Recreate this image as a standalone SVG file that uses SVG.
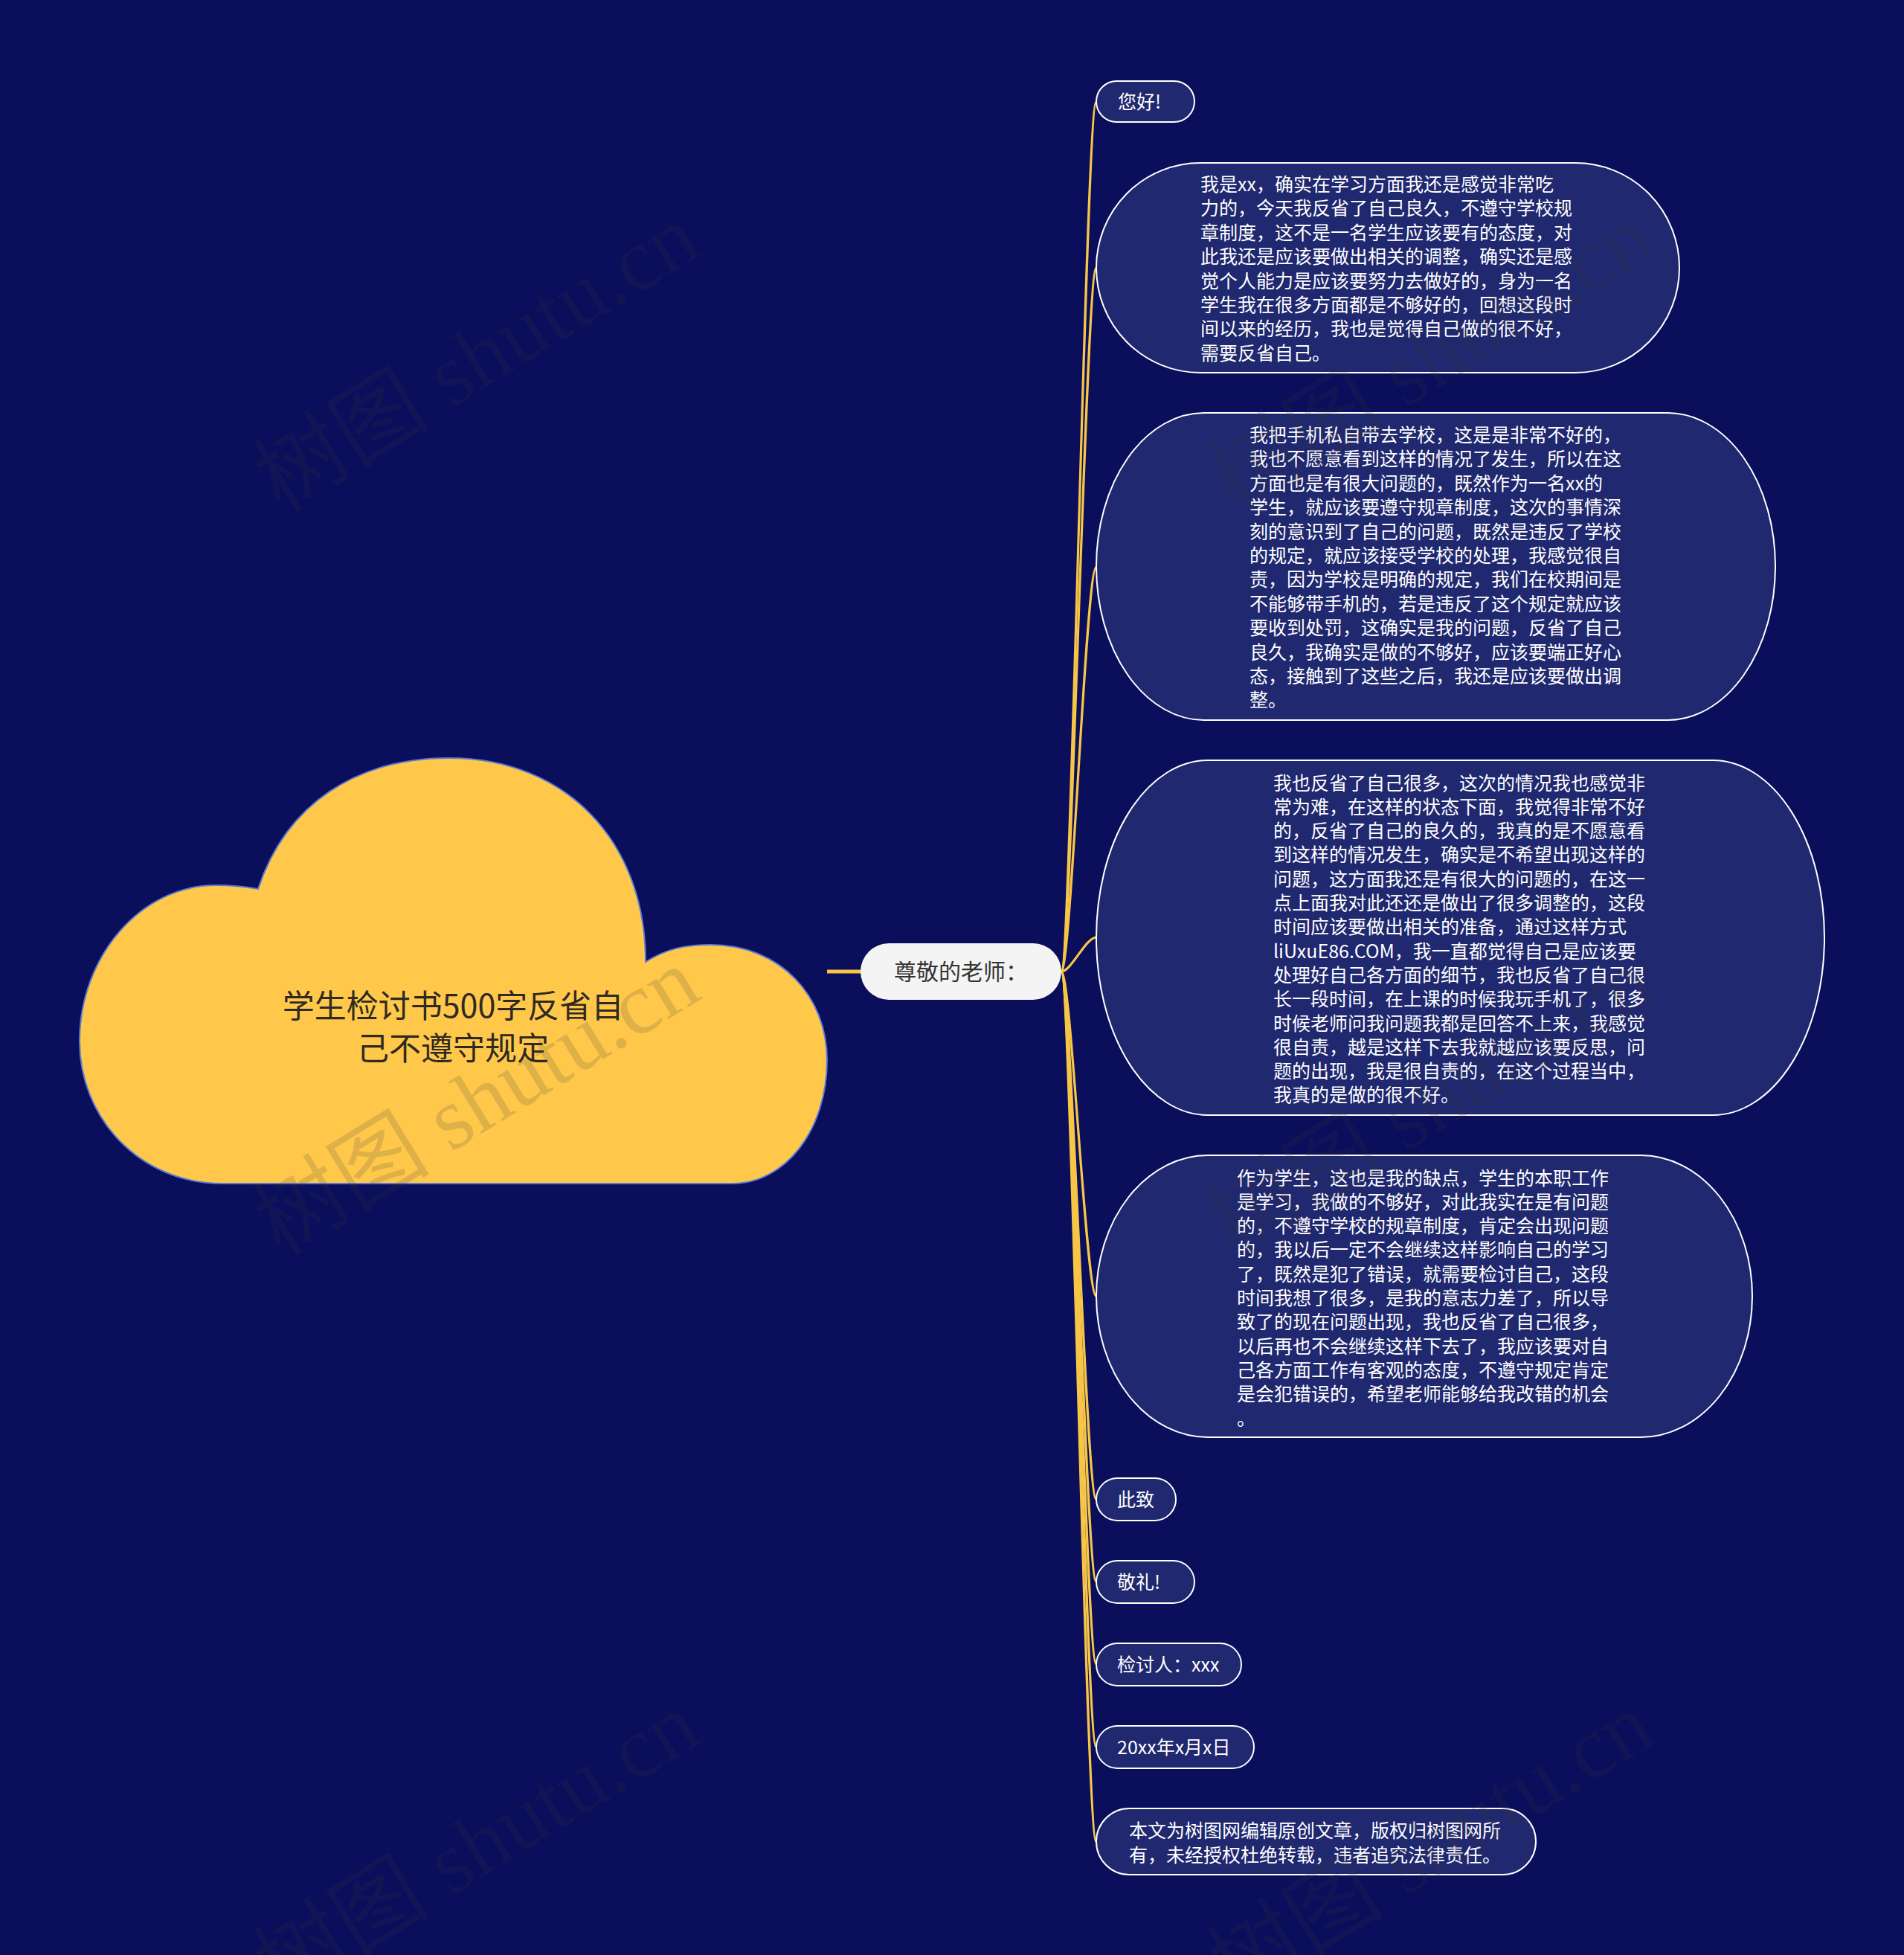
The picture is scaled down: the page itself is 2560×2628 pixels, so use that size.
<svg xmlns="http://www.w3.org/2000/svg" width="2560" height="2628" viewBox="0 0 2560 2628">
<style>
.bg{fill:#0a0e5b}
.node{fill:#20286f;stroke:#ffffff;stroke-width:2}
.t{font-family:"Noto Sans CJK SC","Noto Sans",sans-serif;font-size:25px;fill:#ffffff}
.conn{fill:none;stroke:#f7c646;stroke-width:3.2;stroke-linecap:round}
.wm{font-family:"Liberation Serif","Noto Sans CJK SC",serif;font-size:119px;fill:#3a3a3a;opacity:0.16}
</style>
<rect class="bg" x="0" y="0" width="2560" height="2628"/>

<g id="connectors">
<line x1="1112" y1="1306" x2="1160" y2="1306" stroke="#f7c646" stroke-width="5"/>
<path class="conn" d="M1427 1306 C1440 1306,1460 136.5,1474 136.5"/>
<path class="conn" d="M1427 1306 C1440 1306,1460 360,1474 360"/>
<path class="conn" d="M1427 1306 C1440 1306,1460 762,1474 762"/>
<path class="conn" d="M1427 1306 C1440 1306,1460 1260,1474 1260"/>
<path class="conn" d="M1427 1306 C1440 1306,1460 1742.5,1474 1742.5"/>
<path class="conn" d="M1427 1306 C1440 1306,1460 2015.5,1474 2015.5"/>
<path class="conn" d="M1427 1306 C1440 1306,1460 2126,1474 2126"/>
<path class="conn" d="M1427 1306 C1440 1306,1460 2237,1474 2237"/>
<path class="conn" d="M1427 1306 C1440 1306,1460 2348.5,1474 2348.5"/>
<path class="conn" d="M1427 1306 C1440 1306,1460 2476,1474 2476"/>
</g>

<g id="root">
<path d="M347 1195 C385 1080,480 1019,604 1019 C760 1019,868 1130,868 1293 C895 1276,920 1270,955 1270 C1050 1270,1112 1340,1112 1425 C1112 1520,1055 1591,985 1591 L300 1591 C185 1591,107 1500,107 1400 C107 1285,190 1190,290 1190 C312 1190,330 1192,347 1195 Z" fill="#ffc84b" stroke="#5a7ad8" stroke-width="2"/>
<text font-family="Noto Sans CJK SC,sans-serif" font-size="43" fill="#2e2a22" text-anchor="middle"><tspan x="609" y="1368">学生检讨书500字反省自</tspan><tspan x="609" y="1425">己不遵守规定</tspan></text>
</g>

<g id="center">
<rect x="1157" y="1268" width="270" height="76" rx="38" ry="38" fill="#f4f4f4"/>
<text x="1292" y="1317" font-family="Noto Sans CJK SC,sans-serif" font-size="30" fill="#333333" text-anchor="middle">尊敬的老师：</text>
</g>

<g id="n1">
<rect class="node" x="1474" y="109" width="132" height="55" rx="27.5"/>
<text class="t" x="1503" y="146">您好!</text>
</g>

<g id="n2">
<rect class="node" x="1474" y="219" width="784" height="282" rx="140" ry="141"/>
<text class="t"><tspan x="1614" y="257">我是xx，确实在学习方面我还是感觉非常吃</tspan><tspan x="1614" y="289.4">力的，今天我反省了自己良久，不遵守学校规</tspan><tspan x="1614" y="321.8">章制度，这不是一名学生应该要有的态度，对</tspan><tspan x="1614" y="354.2">此我还是应该要做出相关的调整，确实还是感</tspan><tspan x="1614" y="386.6">觉个人能力是应该要努力去做好的，身为一名</tspan><tspan x="1614" y="419">学生我在很多方面都是不够好的，回想这段时</tspan><tspan x="1614" y="451.4">间以来的经历，我也是觉得自己做的很不好，</tspan><tspan x="1614" y="483.8">需要反省自己。</tspan></text>
</g>

<g id="n3">
<rect class="node" x="1474" y="555" width="913" height="413" rx="145" ry="206.5"/>
<text class="t"><tspan x="1680" y="594">我把手机私自带去学校，这是是非常不好的，</tspan><tspan x="1680" y="626.4">我也不愿意看到这样的情况了发生，所以在这</tspan><tspan x="1680" y="658.8">方面也是有很大问题的，既然作为一名xx的</tspan><tspan x="1680" y="691.2">学生，就应该要遵守规章制度，这次的事情深</tspan><tspan x="1680" y="723.6">刻的意识到了自己的问题，既然是违反了学校</tspan><tspan x="1680" y="756">的规定，就应该接受学校的处理，我感觉很自</tspan><tspan x="1680" y="788.4">责，因为学校是明确的规定，我们在校期间是</tspan><tspan x="1680" y="820.8">不能够带手机的，若是违反了这个规定就应该</tspan><tspan x="1680" y="853.2">要收到处罚，这确实是我的问题，反省了自己</tspan><tspan x="1680" y="885.6">良久，我确实是做的不够好，应该要端正好心</tspan><tspan x="1680" y="918">态，接触到了这些之后，我还是应该要做出调</tspan><tspan x="1680" y="950.4">整。</tspan></text>
</g>

<g id="n4">
<rect class="node" x="1474" y="1022" width="979" height="477" rx="150" ry="238.5"/>
<text class="t"><tspan x="1712" y="1061.5">我也反省了自己很多，这次的情况我也感觉非</tspan><tspan x="1712" y="1093.8">常为难，在这样的状态下面，我觉得非常不好</tspan><tspan x="1712" y="1126.1">的，反省了自己的良久的，我真的是不愿意看</tspan><tspan x="1712" y="1158.4">到这样的情况发生，确实是不希望出现这样的</tspan><tspan x="1712" y="1190.7">问题，这方面我还是有很大的问题的，在这一</tspan><tspan x="1712" y="1223">点上面我对此还还是做出了很多调整的，这段</tspan><tspan x="1712" y="1255.3">时间应该要做出相关的准备，通过这样方式</tspan><tspan x="1712" y="1287.6">liUxuE86.COM，我一直都觉得自己是应该要</tspan><tspan x="1712" y="1319.9">处理好自己各方面的细节，我也反省了自己很</tspan><tspan x="1712" y="1352.2">长一段时间，在上课的时候我玩手机了，很多</tspan><tspan x="1712" y="1384.5">时候老师问我问题我都是回答不上来，我感觉</tspan><tspan x="1712" y="1416.8">很自责，越是这样下去我就越应该要反思，问</tspan><tspan x="1712" y="1449.1">题的出现，我是很自责的，在这个过程当中，</tspan><tspan x="1712" y="1481.4">我真的是做的很不好。</tspan></text>
</g>

<g id="n5">
<rect class="node" x="1474" y="1553" width="882" height="379" rx="150" ry="189.5"/>
<text class="t"><tspan x="1663" y="1592.5">作为学生，这也是我的缺点，学生的本职工作</tspan><tspan x="1663" y="1624.8">是学习，我做的不够好，对此我实在是有问题</tspan><tspan x="1663" y="1657.1">的，不遵守学校的规章制度，肯定会出现问题</tspan><tspan x="1663" y="1689.4">的，我以后一定不会继续这样影响自己的学习</tspan><tspan x="1663" y="1721.7">了，既然是犯了错误，就需要检讨自己，这段</tspan><tspan x="1663" y="1754">时间我想了很多，是我的意志力差了，所以导</tspan><tspan x="1663" y="1786.3">致了的现在问题出现，我也反省了自己很多，</tspan><tspan x="1663" y="1818.6">以后再也不会继续这样下去了，我应该要对自</tspan><tspan x="1663" y="1850.9">己各方面工作有客观的态度，不遵守规定肯定</tspan><tspan x="1663" y="1883.2">是会犯错误的，希望老师能够给我改错的机会</tspan><tspan x="1663" y="1915.5">。</tspan></text>
</g>

<g id="n6">
<rect class="node" x="1474" y="1987" width="107" height="57" rx="28.5"/>
<text class="t" x="1502" y="2025">此致</text>
</g>

<g id="n7">
<rect class="node" x="1474" y="2098" width="132" height="57" rx="28.5"/>
<text class="t" x="1502" y="2135.5">敬礼!</text>
</g>

<g id="n8">
<rect class="node" x="1474" y="2209" width="195" height="57" rx="28.5"/>
<text class="t" x="1502" y="2246.5">检讨人：xxx</text>
</g>

<g id="n9">
<rect class="node" x="1474" y="2320" width="212" height="57" rx="28.5"/>
<text class="t" x="1502" y="2358">20xx年x月x日</text>
</g>

<g id="n10">
<rect class="node" x="1474" y="2431" width="591" height="89" rx="44.5"/>
<text class="t"><tspan x="1518" y="2470">本文为树图网编辑原创文章，版权归树图网所</tspan><tspan x="1518" y="2502.5">有，未经授权杜绝转载，违者追究法律责任。</tspan></text>
</g>

<g id="watermarks">
<text class="wm" x="662" y="515" text-anchor="middle" transform="rotate(-31.5 662 515)">树图 shutu.cn</text>
<text class="wm" x="662" y="1515" text-anchor="middle" transform="rotate(-31.5 662 1515)">树图 shutu.cn</text>
<text class="wm" x="662" y="2515" text-anchor="middle" transform="rotate(-31.5 662 2515)">树图 shutu.cn</text>
<text class="wm" x="1945" y="515" text-anchor="middle" transform="rotate(-31.5 1945 515)">树图 shutu.cn</text>
<text class="wm" x="1945" y="1515" text-anchor="middle" transform="rotate(-31.5 1945 1515)">树图 shutu.cn</text>
<text class="wm" x="1945" y="2515" text-anchor="middle" transform="rotate(-31.5 1945 2515)">树图 shutu.cn</text>
</g>
</svg>
